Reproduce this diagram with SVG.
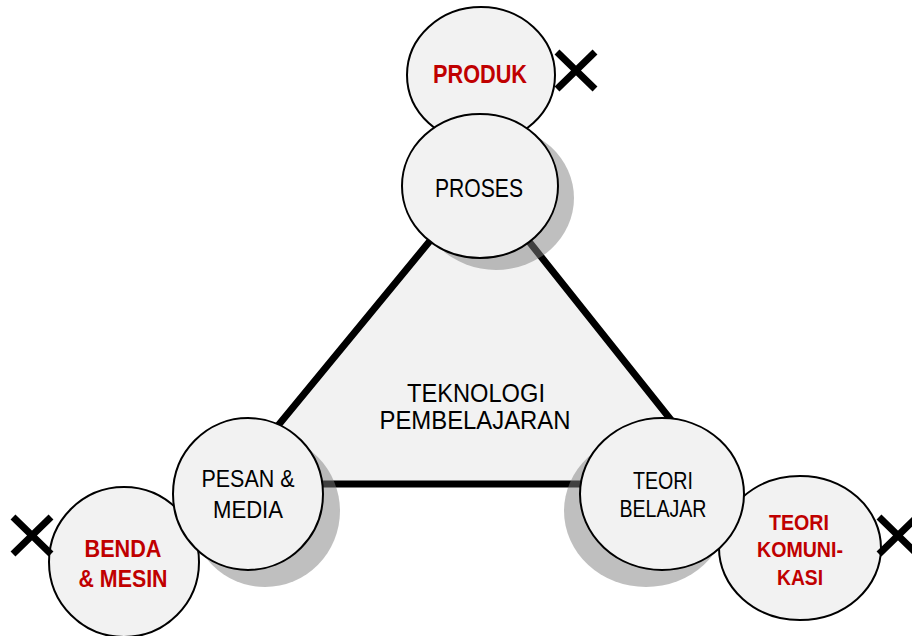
<svg xmlns="http://www.w3.org/2000/svg" width="912" height="636" viewBox="0 0 912 636">
  <style>
    .bubble { fill: #f2f2f2; stroke: #000; stroke-width: 2; }
    .shadow { fill: #808080; fill-opacity: 0.5; }
    .lbl { font-family: "Liberation Sans", Arial, sans-serif; text-anchor: middle; fill: #000; }
    .red { font-weight: bold; fill: #c00000; }
    .cross { stroke: #000; stroke-width: 7; fill: none; }
  </style>

  <!-- central triangle -->
  <g id="core">
    <polygon points="480,180 230,484 722,484" fill="#f2f2f2" stroke="#000" stroke-width="7" stroke-linejoin="miter"/>
    <text class="lbl" font-size="25" x="476" y="402" textLength="138" lengthAdjust="spacingAndGlyphs">TEKNOLOGI</text>
    <text class="lbl" font-size="25" x="475" y="429" textLength="191" lengthAdjust="spacingAndGlyphs">PEMBELAJARAN</text>
  </g>

  <!-- outer (rejected) nodes -->
  <g id="produk">
    <ellipse class="bubble" cx="481" cy="75" rx="74" ry="68"/>
    <text class="lbl red" font-size="25" x="480" y="83" textLength="94" lengthAdjust="spacingAndGlyphs">PRODUK</text>
  </g>
  <g id="benda">
    <ellipse class="bubble" cx="124" cy="562" rx="75" ry="75"/>
    <text class="lbl red" font-size="23" x="123" y="557" textLength="77" lengthAdjust="spacingAndGlyphs">BENDA</text>
    <text class="lbl red" font-size="23" x="123" y="587" textLength="89" lengthAdjust="spacingAndGlyphs">&amp; MESIN</text>
  </g>
  <g id="komunikasi">
    <ellipse class="bubble" cx="800" cy="548" rx="81" ry="72"/>
    <text class="lbl red" font-size="22" x="799" y="530" textLength="60" lengthAdjust="spacingAndGlyphs">TEORI</text>
    <text class="lbl red" font-size="22" x="800" y="557" textLength="86" lengthAdjust="spacingAndGlyphs">KOMUNI-</text>
    <text class="lbl red" font-size="22" x="800" y="585" textLength="46" lengthAdjust="spacingAndGlyphs">KASI</text>
  </g>

  <!-- shadows of the inner nodes -->
  <g id="shadows">
    <ellipse class="shadow" cx="496" cy="198" rx="78" ry="72"/>
    <ellipse class="shadow" cx="265" cy="511" rx="75" ry="76"/>
    <ellipse class="shadow" cx="646" cy="511" rx="82" ry="76"/>
  </g>

  <!-- inner nodes -->
  <g id="proses">
    <ellipse class="bubble" cx="480" cy="186" rx="78" ry="72"/>
    <text class="lbl" font-size="25" x="479" y="197" textLength="88" lengthAdjust="spacingAndGlyphs">PROSES</text>
  </g>
  <g id="pesan">
    <ellipse class="bubble" cx="248" cy="494" rx="75" ry="76"/>
    <text class="lbl" font-size="24" x="248" y="487" textLength="93" lengthAdjust="spacingAndGlyphs">PESAN &amp;</text>
    <text class="lbl" font-size="24" x="248" y="518" textLength="70" lengthAdjust="spacingAndGlyphs">MEDIA</text>
  </g>
  <g id="belajar">
    <ellipse class="bubble" cx="662" cy="494" rx="82" ry="76"/>
    <text class="lbl" font-size="23" x="663" y="489" textLength="60" lengthAdjust="spacingAndGlyphs">TEORI</text>
    <text class="lbl" font-size="23" x="663" y="517" textLength="87" lengthAdjust="spacingAndGlyphs">BELAJAR</text>
  </g>

  <!-- cross marks -->
  <g id="connectors">
    <path class="cross" d="M557,52 L595,89 M595,52 L557,89"/>
    <path class="cross" d="M13,517 L51,554 M51,517 L13,554"/>
    <path class="cross" d="M879,517 L917,554 M917,517 L879,554"/>
  </g>
</svg>
